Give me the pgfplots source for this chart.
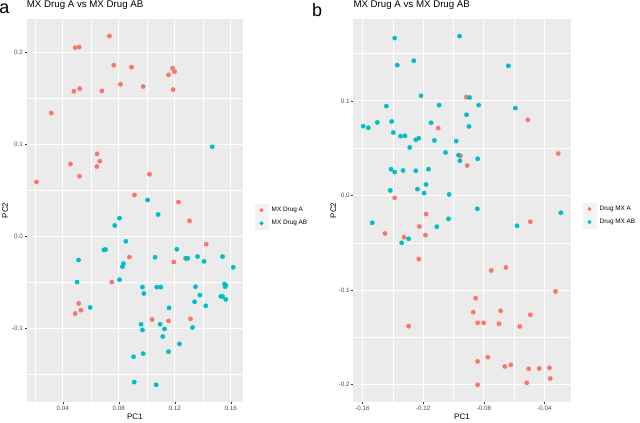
\documentclass[border=0pt]{standalone}
\usepackage{pgfplots}
\pgfplotsset{compat=1.18}
\usepackage{fontspec}
\setmainfont{Liberation Sans}
\definecolor{ggred}{HTML}{F8766D}
\definecolor{ggteal}{HTML}{00BFC4}
\definecolor{ggbg}{HTML}{EBEBEB}
\definecolor{ggkey}{HTML}{F2F2F2}
\definecolor{ggtick}{HTML}{4D4D4D}
\definecolor{ggtickline}{HTML}{333333}

\pgfplotsset{
  ggstyle/.style={
    scale only axis,
    height=383.5pt,
    axis background/.style={fill=ggbg},
    axis line style={draw=none},
    tick pos=left,
    tick align=outside,
    major tick length=2pt,
    minor tick length=0pt,
    tick style={ggtickline, line width=0.5pt},
    grid=both,
    major grid style={white, line width=1pt},
    minor grid style={white, line width=0.45pt},
    ticklabel style={font=\fontsize{6.3}{7}\selectfont, text=ggtick},
    xticklabel style={inner sep=1.5pt},
    yticklabel style={inner sep=1.5pt},
    /pgf/number format/assume math mode=true,
    label style={font=\fontsize{8}{9}\selectfont},
    title style={font=\fontsize{9.7}{11}\selectfont, anchor=base west, inner sep=0pt, at={(axis description cs:0,1.0123)}},
    legend style={draw=none, fill=none, anchor=west, inner sep=0pt, outer sep=0pt,
      row sep=0pt, font=\fontsize{6.4}{7}\selectfont,
      nodes={inner sep=0pt},
      /tikz/every odd column/.append style={column sep=3.7pt}},
    legend cell align=left,
    legend image code/.code={\fill[ggkey] (-6.3pt,-6.3pt) rectangle (6.3pt,6.3pt); \draw[##1, mark size=1.9pt] plot coordinates {(0pt,0pt)};},
  },
  ggred/.style={only marks, mark=*, mark size=2.15pt, color=ggred},
  ggteal/.style={only marks, mark=*, mark size=2.15pt, color=ggteal},
}

\begin{document}
\begin{tikzpicture}[x=1pt,y=1pt]
\useasboundingbox (0pt,0pt) rectangle (640pt,-423pt);

\node[anchor=base west, inner sep=0pt, font=\fontsize{18}{20}\selectfont] at (-0.8pt,-13.8pt) {a};
\node[anchor=base west, inner sep=0pt, font=\fontsize{18}{20}\selectfont] at (311.8pt,-16.5pt) {b};

% ---------------- Panel a ----------------
\begin{axis}[ggstyle,
  at={(26.7pt,-18.7pt)}, anchor=north west,
  width=216.3pt,
  xmin=0.0142, xmax=0.1687, ymin=-0.1803, ymax=0.2362,
  xtick={0.04,0.08,0.12,0.16}, xticklabels={0.04,0.08,0.12,0.16},
  minor xtick={0.02,0.06,0.10,0.14},
  ytick={-0.1,0,0.1,0.2}, yticklabels={-0.1,0.0,0.1,0.2},
  minor ytick={-0.15,-0.05,0.05,0.15},
  title={MX Drug A vs MX Drug AB},
  xlabel={PC1}, ylabel={PC2},
  xlabel style={at={(axis description cs:0.5,-0.0378)}, anchor=center},
  ylabel style={at={(axis description cs:-0.1003,0.5)}, anchor=center},
  legend style={at={(axis description cs:1.0555,0.4837)}},
]
\addplot[ggred] coordinates {
(0.0733,0.2173) (0.0488,0.2047) (0.0517,0.2054) (0.0764,0.1857) (0.0891,0.1836)
(0.1184,0.1825) (0.1198,0.1788) (0.1155,0.1752) (0.0812,0.1650) (0.0974,0.1625)
(0.0479,0.1574) (0.0521,0.1603) (0.0679,0.1578) (0.1188,0.1592) (0.0317,0.1338)
(0.0645,0.0894) (0.0664,0.0815) (0.0455,0.0785) (0.0643,0.0756) (0.0519,0.0651)
(0.1019,0.0673) (0.0212,0.0589) (0.0912,0.0447) (0.1226,0.0371) (0.1305,0.0167)
(0.1424,-0.0087) (0.0876,-0.0226) (0.1276,-0.0240) (0.1193,-0.0280) (0.0750,-0.0498)
(0.0514,-0.0731) (0.0529,-0.0803) (0.0488,-0.0840) (0.1038,-0.0905) (0.1155,-0.0920)
(0.1312,-0.0898)
};
\addlegendentry{MX Drug A}
\addplot[ggteal] coordinates {
(0.1467,0.0971) (0.1005,0.0393) (0.1081,0.0236) (0.0805,0.0196) (0.0771,0.0116)
(0.0850,-0.0055) (0.0693,-0.0149) (0.0705,-0.0145) (0.1214,-0.0142) (0.0512,-0.0258)
(0.1059,-0.0229) (0.1362,-0.0221) (0.1541,-0.0221) (0.1283,-0.0240) (0.1293,-0.0240)
(0.1409,-0.0273) (0.0833,-0.0298) (0.0826,-0.0331) (0.1617,-0.0338) (0.0805,-0.0472)
(0.0502,-0.0498) (0.0969,-0.0553) (0.1071,-0.0553) (0.1100,-0.0553) (0.1348,-0.0549)
(0.1555,-0.0520) (0.1564,-0.0534) (0.1559,-0.0549) (0.0979,-0.0622) (0.1379,-0.0640)
(0.1529,-0.0654) (0.1541,-0.0654) (0.1564,-0.0687) (0.1341,-0.0712) (0.1421,-0.0756)
(0.0595,-0.0774) (0.1159,-0.0778) (0.0959,-0.0956) (0.1095,-0.0956) (0.0969,-0.1018)
(0.1126,-0.1007) (0.1326,-0.0992) (0.1114,-0.1090) (0.1233,-0.1170) (0.0974,-0.1276)
(0.1155,-0.1254) (0.0905,-0.1309) (0.0910,-0.1585) (0.1067,-0.1614)
};
\addlegendentry{MX Drug AB}
\node[anchor=west, inner sep=0pt, font=\fontsize{8}{9}\selectfont] at (axis description cs:1.0555,0.5359) {Samples};
\end{axis}

% ---------------- Panel b ----------------
\begin{axis}[ggstyle,
  at={(353.3pt,-18.7pt)}, anchor=north west,
  width=217.4pt,
  xmin=-0.1661, xmax=-0.0227, ymin=-0.2186, ymax=0.1869,
  xtick={-0.16,-0.12,-0.08,-0.04}, xticklabels={-0.16,-0.12,-0.08,-0.04},
  minor xtick={-0.14,-0.10,-0.06},
  ytick={-0.2,-0.1,0,0.1}, yticklabels={-0.2,-0.1,0.0,0.1},
  minor ytick={-0.15,-0.05,0.05,0.15},
  title={MX Drug A vs MX Drug AB},
  xlabel={PC1}, ylabel={PC2},
  xlabel style={at={(axis description cs:0.5,-0.0378)}, anchor=center},
  ylabel style={at={(axis description cs:-0.092,0.5)}, anchor=center},
  legend style={at={(axis description cs:1.0566,0.4868)}},
]
\addplot[ggred] coordinates {
(-0.0916,0.1040) (-0.0510,0.0800) (-0.1101,0.0712) (-0.0954,0.0419) (-0.0910,0.0317)
(-0.0309,0.0444) (-0.1388,-0.0025) (-0.1181,-0.0197) (-0.0493,-0.0278) (-0.1225,-0.0328)
(-0.1452,-0.0402) (-0.1326,-0.0441) (-0.1185,-0.0419) (-0.1229,-0.0673) (-0.0654,-0.0761)
(-0.0751,-0.0793) (-0.0327,-0.1015) (-0.0854,-0.1086) (-0.0870,-0.1234) (-0.0689,-0.1220)
(-0.0493,-0.1262) (-0.0841,-0.1347) (-0.0801,-0.1347) (-0.0700,-0.1357) (-0.0563,-0.1385)
(-0.1296,-0.1382) (-0.0773,-0.1710) (-0.0841,-0.1755) (-0.0662,-0.1808) (-0.0622,-0.1791)
(-0.0504,-0.1833) (-0.0435,-0.1829) (-0.0367,-0.1822) (-0.0362,-0.1935) (-0.0517,-0.1981)
(-0.0841,-0.2002)
};
\addlegendentry{Drug MX A}
\addplot[ggteal] coordinates {
(-0.1388,0.1664) (-0.0960,0.1685) (-0.1371,0.1378) (-0.1262,0.1424) (-0.0638,0.1371)
(-0.1214,0.1054) (-0.0894,0.1036) (-0.1095,0.0955) (-0.0834,0.0955) (-0.1443,0.0945)
(-0.0592,0.0924) (-0.0914,0.0853) (-0.1596,0.0733) (-0.1562,0.0716) (-0.1503,0.0772)
(-0.1408,0.0783) (-0.1397,0.0666) (-0.1349,0.0627) (-0.1320,0.0631) (-0.1148,0.0768)
(-0.0898,0.0730) (-0.1249,0.0589) (-0.1229,0.0606) (-0.1126,0.0582) (-0.0982,0.0575)
(-0.1289,0.0508) (-0.1053,0.0455) (-0.0967,0.0427) (-0.0958,0.0367) (-0.0841,0.0388)
(-0.1412,0.0278) (-0.1388,0.0247) (-0.1333,0.0264) (-0.1249,0.0261) (-0.1165,0.0278)
(-0.1181,0.0116) (-0.1417,0.0053) (-0.1238,0.0067) (-0.1194,0.0025) (-0.1029,0.0011)
(-0.0843,-0.0141) (-0.0292,-0.0183) (-0.1033,-0.0247) (-0.1536,-0.0289) (-0.1110,-0.0331)
(-0.0581,-0.0321) (-0.1296,-0.0458) (-0.1342,-0.0501)
};
\addlegendentry{Drug MX AB}
\node[anchor=west, inner sep=0pt, font=\fontsize{8}{9}\selectfont] at (axis description cs:1.0566,0.539) {Samples};
\end{axis}
\end{tikzpicture}
\end{document}
